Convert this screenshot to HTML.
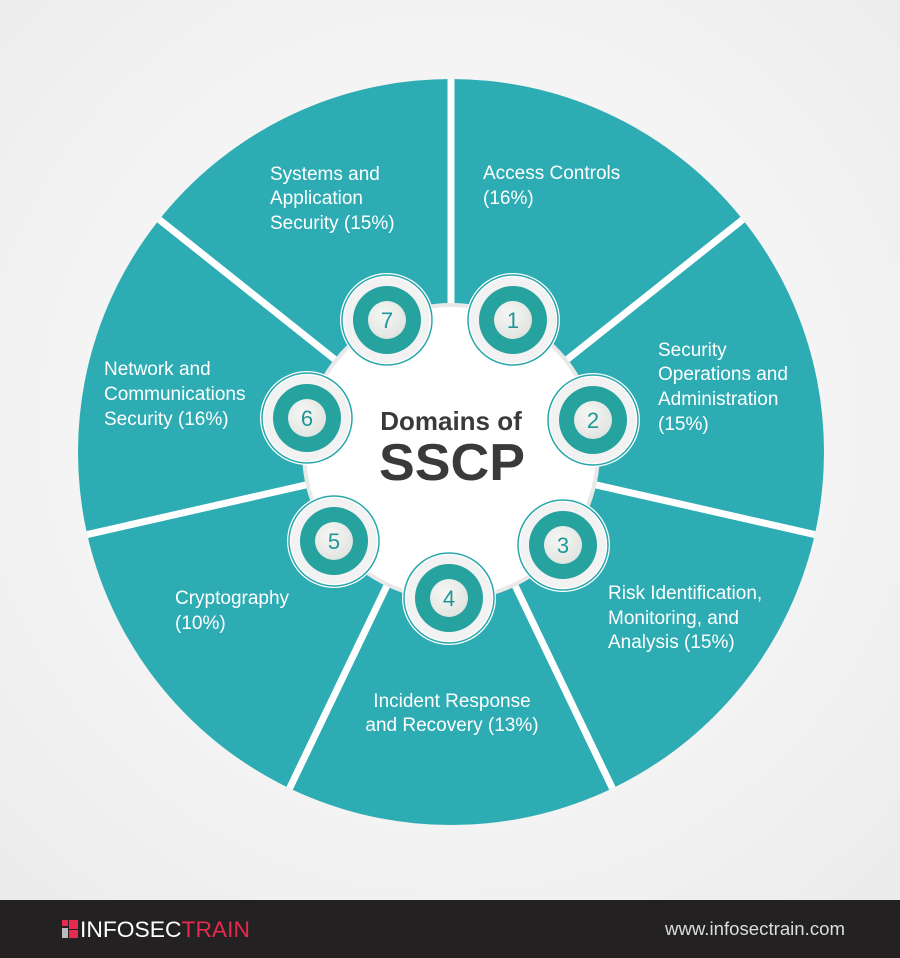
<!DOCTYPE html>
<html><head><meta charset="utf-8"><style>
html,body{margin:0;padding:0;width:900px;height:958px;overflow:hidden;background:#f3f3f3}
svg{display:block}
</style></head><body>
<svg width="900" height="958" viewBox="0 0 900 958" xmlns="http://www.w3.org/2000/svg">
<defs>
<radialGradient id="bg" cx="0.5" cy="0.47" r="0.7">
<stop offset="0" stop-color="#ffffff"/><stop offset="1" stop-color="#ececec"/>
</radialGradient>
<radialGradient id="disc" cx="0.4" cy="0.35" r="0.7">
<stop offset="0" stop-color="#f6f7f4"/><stop offset="1" stop-color="#dfe3df"/>
</radialGradient>
<clipPath id="cc"><circle cx="451" cy="452" r="373"/></clipPath>
<g id="badge">
<circle r="47" fill="#ffffff"/>
<circle r="45" fill="none" stroke="#2aa7ab" stroke-width="1.5"/>
<circle r="43" fill="#f2f2f2"/>
<circle r="34" fill="#26a29f"/>
<circle r="19" fill="url(#disc)"/>
</g>
</defs>
<rect width="900" height="900" fill="url(#bg)"/>
<circle cx="451" cy="452" r="373" fill="#2eacb3"/>
<g stroke="#ffffff" stroke-width="7" clip-path="url(#cc)">
<line x1="451" y1="452" x2="451" y2="70"/>
<line x1="451" y1="452" x2="751" y2="213"/>
<line x1="451" y1="452" x2="830" y2="538"/>
<line x1="451" y1="452" x2="618" y2="800"/>
<line x1="451" y1="452" x2="284" y2="800"/>
<line x1="451" y1="452" x2="72" y2="538"/>
<line x1="451" y1="452" x2="151" y2="213"/>
</g>
<circle cx="451" cy="452" r="149" fill="#e8e8e8"/>
<circle cx="451" cy="452" r="145" fill="#ffffff"/>
<g font-family="'Liberation Sans',sans-serif" font-size="19" fill="#ffffff">
<text x="270" y="180">Systems and</text>
<text x="270" y="204">Application</text>
<text x="270" y="229">Security (15%)</text>
<text x="483" y="179">Access Controls</text>
<text x="483" y="204">(16%)</text>
<text x="658" y="356">Security</text>
<text x="658" y="380">Operations and</text>
<text x="658" y="405">Administration</text>
<text x="658" y="430">(15%)</text>
<text x="608" y="599">Risk Identification,</text>
<text x="608" y="624">Monitoring, and</text>
<text x="608" y="648">Analysis (15%)</text>
<text x="452" y="707" text-anchor="middle">Incident Response</text>
<text x="452" y="731" text-anchor="middle">and Recovery (13%)</text>
<text x="175" y="604">Cryptography</text>
<text x="175" y="629">(10%)</text>
<text x="104" y="375">Network and</text>
<text x="104" y="400">Communications</text>
<text x="104" y="425">Security (16%)</text>
</g>
<use href="#badge" x="513" y="320"/>
<use href="#badge" x="593" y="420"/>
<use href="#badge" x="563" y="545"/>
<use href="#badge" x="449" y="598"/>
<use href="#badge" x="334" y="541"/>
<use href="#badge" x="307" y="418"/>
<use href="#badge" x="387" y="320"/>
<g font-family="'Liberation Sans',sans-serif" font-size="22" fill="#1f9797" text-anchor="middle">
<text x="513" y="328">1</text>
<text x="593" y="428">2</text>
<text x="563" y="553">3</text>
<text x="449" y="606">4</text>
<text x="334" y="549">5</text>
<text x="307" y="426">6</text>
<text x="387" y="328">7</text>
</g>
<text x="451" y="430" font-family="'Liberation Sans',sans-serif" font-weight="bold" font-size="26" fill="#3a3a3a" text-anchor="middle">Domains of</text>
<text x="452" y="480" font-family="'Liberation Sans',sans-serif" font-weight="bold" font-size="52" fill="#3a3a3a" text-anchor="middle" textLength="146" lengthAdjust="spacingAndGlyphs">SSCP</text>
<rect y="900" width="900" height="58" fill="#232122"/>
<rect x="62" y="920" width="6" height="6" fill="#e8294f"/>
<rect x="69" y="920" width="9" height="9" fill="#e8294f"/>
<rect x="62" y="928" width="6" height="10" fill="#bbbbbb"/>
<rect x="69" y="930" width="9" height="8" fill="#e8294f"/>
<text x="80" y="937" font-family="'Liberation Sans',sans-serif" font-size="22" fill="#ffffff" textLength="170" lengthAdjust="spacingAndGlyphs">INFOSEC<tspan fill="#e8294f">TRAIN</tspan></text>
<text x="845" y="935" font-family="'Liberation Sans',sans-serif" font-size="18" fill="#dddddd" text-anchor="end" textLength="180" lengthAdjust="spacingAndGlyphs">www.infosectrain.com</text>
</svg>
</body></html>
